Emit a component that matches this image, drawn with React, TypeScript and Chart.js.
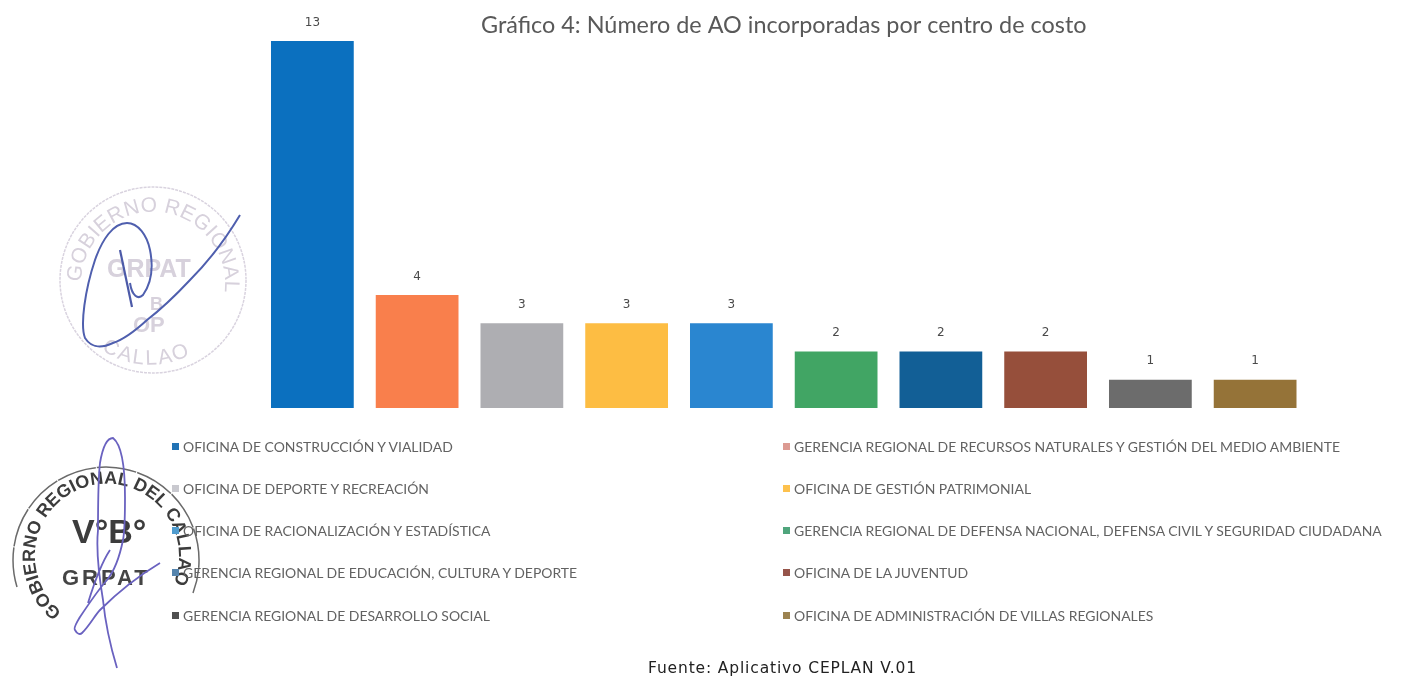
import React, { useEffect, useRef } from "react";
import { Chart, registerables } from "chart.js";

Chart.register(...registerables);

const categories = [
  "OFICINA DE CONSTRUCCIÓN Y VIALIDAD",
  "GERENCIA REGIONAL DE RECURSOS NATURALES Y GESTIÓN DEL MEDIO AMBIENTE",
  "OFICINA DE DEPORTE Y RECREACIÓN",
  "OFICINA DE GESTIÓN PATRIMONIAL",
  "OFICINA DE RACIONALIZACIÓN Y ESTADÍSTICA",
  "GERENCIA REGIONAL DE DEFENSA NACIONAL, DEFENSA CIVIL Y SEGURIDAD CIUDADANA",
  "GERENCIA REGIONAL DE EDUCACIÓN, CULTURA Y DEPORTE",
  "OFICINA DE LA JUVENTUD",
  "GERENCIA REGIONAL DE DESARROLLO SOCIAL",
  "OFICINA DE ADMINISTRACIÓN DE VILLAS REGIONALES",
];
const values = [13, 4, 3, 3, 3, 2, 2, 2, 1, 1];
const barColors = [
  "#0b70bf", "#f97f4c", "#aeaeb2", "#fdbd43", "#2a86d0",
  "#41a564", "#125f96", "#964f3b", "#6c6c6c", "#957338",
];
const legendColors = [
  "#2273b5", "#dc9a92", "#c9c9cf", "#fdc14d", "#4f9ccf",
  "#4fa57c", "#5584ad", "#96544a", "#505050", "#9c8350",
];
const chartTitle = "Gráfico 4: Número de AO incorporadas por centro de costo";
const sourceNote = "Fuente: Aplicativo CEPLAN V.01";

const barLabels = {
  id: "barLabels",
  afterDatasetsDraw(chart: any) {
    const { ctx } = chart;
    const meta = chart.getDatasetMeta(0);
    ctx.save();
    ctx.font = "12px 'DejaVu Sans'";
    ctx.fillStyle = "#4a4a4a";
    ctx.textAlign = "center";
    ctx.textBaseline = "middle";
    meta.data.forEach((bar: any, i: number) => {
      ctx.fillText(String(values[i]), bar.x, bar.y - 18.5);
    });
    ctx.restore();
  },
};

function Stamp1() {
  return (
    <g>
      <circle cx="153" cy="280" r="93" fill="none" stroke="#d9d3df" strokeWidth="1.5" strokeDasharray="3 1" />
      <defs>
        <path id="arcA" d="M 81 282 A 72 72 0 1 1 220 310" />
        <path id="arcB" d="M 95 345 A 87 87 0 0 0 205 345" />
      </defs>
      <g fill="#d7d1dc" fontFamily="'Liberation Sans'" fontSize="21">
        <text letterSpacing="0.3"><textPath href="#arcA">GOBIERNO REGIONAL</textPath></text>
        <text letterSpacing="2"><textPath href="#arcB" startOffset="8">CALLAO</textPath></text>
        <text x="107" y="277" fontWeight="bold" fontSize="25">GRPAT</text>
        <text x="150" y="310" fontWeight="bold" fontSize="18">B</text>
        <text x="133" y="332" fontWeight="bold" fontSize="22">OP</text>
      </g>
      <path
        d="M 240 215 C 225 240 208 262 190 280 C 175 296 160 310 147 320 C 135 331 122 340 113 343 C 102 348 92 349 85 338 C 80 325 85 290 95 260 C 102 240 113 223 127 223 C 138 223 147 235 150 250 C 154 270 150 285 143 295 C 138 300 132 296 130 283"
        fill="none" stroke="#4f5fae" strokeWidth="2"
      />
      <path d="M 120 250 L 132 307" fill="none" stroke="#4c5aa8" strokeWidth="2.2" />
    </g>
  );
}

function Stamp2() {
  return (
    <g>
      <path d="M 17 587 A 93 93 0 1 1 193 593" fill="none" stroke="#6a6a6a" strokeWidth="1.5" strokeDasharray="40 1" />
      <defs>
        <path id="arcC" d="M 62 612 A 72 72 0 1 1 152 612" />
      </defs>
      <g fill="#3c3c3c" fontFamily="'Liberation Sans'" fontWeight="bold">
        <text fontSize="18"><textPath href="#arcC">GOBIERNO REGIONAL DEL CALLAO</textPath></text>
        <text x="72" y="543" fontSize="34">V°B°</text>
        <text x="62" y="585" fontSize="22" letterSpacing="3" fill="#444">GRPAT</text>
      </g>
      <path
        d="M 117 668 C 110 645 105 620 103 600 C 98 570 96 550 98 530 C 98 500 98 480 100 463 C 103 445 108 438 113 438 C 122 445 125 470 125 497 C 125 515 125 530 123 540 C 120 555 115 570 107 580 C 98 590 88 605 80 617 C 77 622 73 628 75 630 C 77 634 80 635 82 633 C 90 625 95 615 100 610 C 120 590 140 575 160 563 M 110 550 C 100 565 92 590 88 603"
        fill="none" stroke="#6a62c0" strokeWidth="1.8"
      />
    </g>
  );
}

export default function App() {
  const ref = useRef<HTMLCanvasElement>(null);
  useEffect(() => {
    const chart = new Chart(ref.current!, {
      type: "bar",
      data: {
        labels: categories,
        datasets: [
          {
            data: values,
            backgroundColor: barColors,
            barPercentage: 0.79,
            categoryPercentage: 1,
          },
        ],
      },
      options: {
        responsive: false,
        animation: false,
        layout: { padding: { left: 260, right: 93.5, bottom: 268, top: 0 } },
        scales: {
          x: { display: false, grid: { display: false } },
          y: { display: false, min: 0, max: 13, grid: { display: false } },
        },
        plugins: {
          legend: { display: false },
          tooltip: { enabled: false },
          title: {
            display: true,
            text: chartTitle,
            fullSize: false,
            color: "#595959",
            font: { family: "Lato", size: 23.4, weight: "normal" },
            padding: { top: 11, bottom: 2 },
          },
        },
      },
      plugins: [barLabels],
    } as any);
    return () => chart.destroy();
  }, []);

  return (
    <div style={{ position: "absolute", left: 0, top: 0, width: 1401, height: 676, overflow: "hidden", background: "#fff" }}>
      <canvas ref={ref} width={1401} height={676} style={{ position: "absolute", left: 0, top: 0 }} />
      <svg width={1401} height={676} style={{ position: "absolute", left: 0, top: 0 }}>
        <Stamp1 />
        <Stamp2 />
      </svg>
      {categories.map((name, i) => {
        const col = i % 2;
        const row = Math.floor(i / 2);
        return (
          <div
            key={name}
            style={{
              position: "absolute",
              left: col === 0 ? 172 : 783,
              top: 446 + row * 42.3 - 9,
              height: 18,
              display: "flex",
              alignItems: "center",
              whiteSpace: "nowrap",
              fontFamily: "Lato",
              fontSize: 13.95,
              color: "#626262",
            }}
          >
            <span style={{ width: 7, height: 7, marginRight: 4, background: legendColors[i], display: "inline-block" }} />
            {name}
          </div>
        );
      })}
      <div
        style={{
          position: "absolute",
          left: 648,
          top: 659,
          whiteSpace: "nowrap",
          fontFamily: "'DejaVu Sans'",
          fontSize: 15.5,
          letterSpacing: 0.85,
          color: "#222",
        }}
      >
        {sourceNote}
      </div>
    </div>
  );
}
